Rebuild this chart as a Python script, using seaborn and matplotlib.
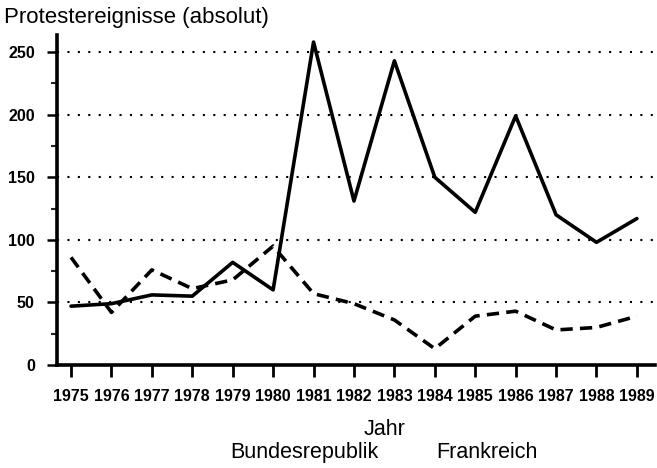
import numpy as np
import pandas as pd
import matplotlib
matplotlib.use("Agg")
import matplotlib.pyplot as plt
from matplotlib.ticker import MultipleLocator
import seaborn as sns

# values
years = list(range(1975, 1990))
brd = [47, 49, 56, 55, 82, 60, 258, 131, 243, 150, 122, 199, 120, 98, 117]
fra = [86, 42, 76, 61, 68, 95, 57, 49, 36, 13, 39, 43, 28, 30, 39]
countries = ["Bundesrepublik", "Frankreich"]
y_ticks = [0, 50, 100, 150, 200, 250]

df = pd.concat([
    pd.DataFrame({"Jahr": years, "n": brd, "Land": countries[0]}),
    pd.DataFrame({"Jahr": years, "n": fra, "Land": countries[1]}),
])

sns.set_style("ticks")
plt.rcParams["font.family"] = ["Liberation Sans", "DejaVu Sans"]
plt.rcParams["text.color"] = "black"
plt.rcParams["axes.labelcolor"] = "black"

fig = plt.figure(figsize=(6.57, 4.68), dpi=100)
ax = fig.add_axes([0.0868, 0.2201, 0.910, 0.705])

sns.lineplot(data=df, x="Jahr", y="n", style="Land", style_order=countries,
             dashes={"Bundesrepublik": "", "Frankreich": (3.4, 2.0)},
             color="black", lw=2.6, legend=False, ax=ax)

ax.set_xlim(1974.654, 1989.445)
ax.set_ylim(0, 263.6)
ax.set_xticks(years)
ax.set_yticks(y_ticks)
ax.yaxis.set_minor_locator(MultipleLocator(25))
ax.grid(axis="y", color="black", linestyle=(0, (1, 4.0)), lw=1.5)
ax.set_axisbelow(True)

for s in ["top", "right"]:
    ax.spines[s].set_visible(False)
for s in ["left", "bottom"]:
    ax.spines[s].set_linewidth(2.6)
    ax.spines[s].set_color("black")

ax.tick_params(axis="x", length=8.5, width=2.0, pad=9, labelsize=11.5, colors="black")
ax.tick_params(axis="y", length=7, width=1.8, pad=9, labelsize=11.5, colors="black")
ax.tick_params(axis="y", which="minor", length=4, width=1.5)
for lab in ax.get_xticklabels() + ax.get_yticklabels():
    lab.set_fontweight("bold")

ax.set_ylabel("")
ax.set_xlabel("Jahr", fontsize=15.5)
ax.xaxis.set_label_coords((385 - 57) / 598, -0.165)

fig.text(0.006, 0.963, "Protestereignisse (absolut)", fontsize=16,
         ha="left", va="center")

handles = [plt.Line2D([], [], color="none") for _ in countries]
fig.legend(handles, countries, loc="center", bbox_to_anchor=(0.584, 0.034),
           ncol=2, frameon=False, fontsize=15.5, handlelength=0,
           handletextpad=0, columnspacing=2.7)

fig.savefig("out.png", dpi=100)
